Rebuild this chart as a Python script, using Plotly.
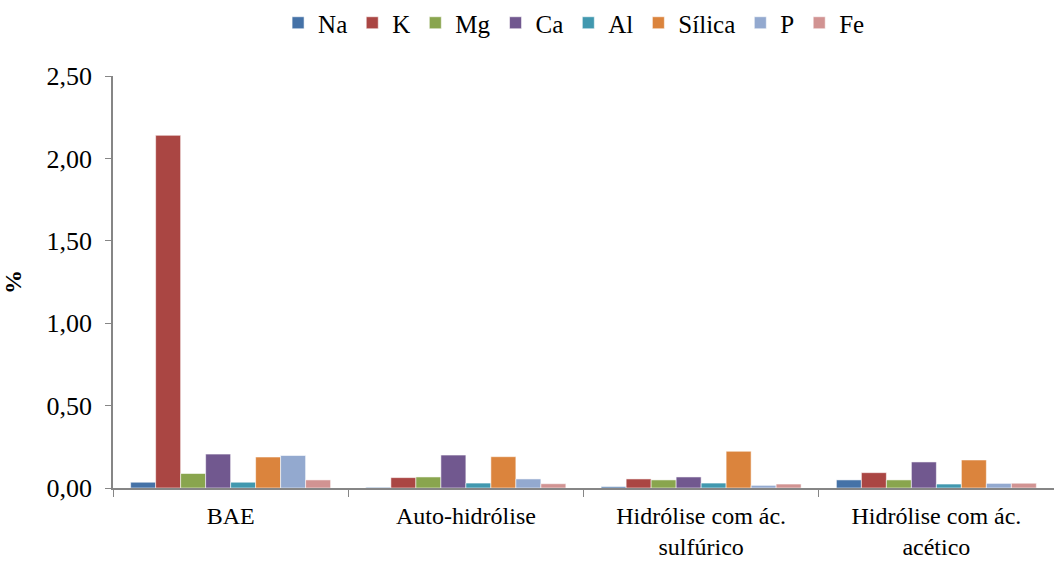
import plotly.graph_objects as go

categories = ["BAE", "Auto-hidrólise", "Hidrólise com ác.<br>sulfúrico", "Hidrólise com ác.<br>acético"]

elements = ["Na", "K", "Mg", "Ca", "Al", "Sílica", "P", "Fe"]
na = [0.035, 0.004, 0.008, 0.049]
k = [2.14, 0.063, 0.055, 0.093]
mg = [0.088, 0.067, 0.049, 0.049]
ca = [0.206, 0.200, 0.067, 0.158]
al = [0.035, 0.030, 0.030, 0.024]
silica = [0.188, 0.190, 0.223, 0.170]
p = [0.197, 0.055, 0.016, 0.028]
fe = [0.049, 0.026, 0.024, 0.029]
values = [na, k, mg, ca, al, silica, p, fe]

colors = ["#4572A7", "#AA4643", "#89A54E", "#71588F", "#4198AF", "#DB843D", "#93A9CF", "#D19392"]

yticks = [0, 0.5, 1.0, 1.5, 2.0, 2.5]

font = "Liberation Serif"
fsize = 26

fig = go.Figure()
for name, vals, col in zip(elements, values, colors):
    fig.add_trace(go.Bar(
        name=name, x=categories, y=vals,
        marker=dict(color=col, line=dict(color="rgba(255,255,255,0.55)", width=1)),
    ))

fig.update_layout(
    width=1054, height=561,
    margin=dict(l=113, r=0, t=76, b=73),
    paper_bgcolor="white", plot_bgcolor="white",
    barmode="group", bargap=0.15, bargroupgap=0,
    separators=",.",
    font=dict(family=font, size=fsize, color="black"),
    legend=dict(orientation="h", x=0.49, xanchor="center", xref="paper",
                y=1.0, yref="container", yanchor="top",
                font=dict(family=font, size=25), itemwidth=30, tracegroupgap=0,
                itemclick=False),
    xaxis=dict(
        showline=True, linecolor="#868686", linewidth=1.5,
        ticks="outside", tickson="boundaries", ticklen=7, tickcolor="#868686",
        tickfont=dict(family=font, size=24), showgrid=False,
        ticklabelstandoff=5, automargin=False,
    ),
    yaxis=dict(
        range=[0, 2.5], tickvals=yticks, tickformat=".2f",
        showline=True, linecolor="#868686", linewidth=1.5,
        ticks="outside", ticklen=6, tickcolor="#868686",
        showgrid=False, zeroline=False,
        tickfont=dict(family=font, size=fsize),
        ticklabelstandoff=8, automargin=False,
        title=dict(text="<b>%</b>", font=dict(family=font, size=24), standoff=18),
    ),
)

fig.write_html("out.html")
